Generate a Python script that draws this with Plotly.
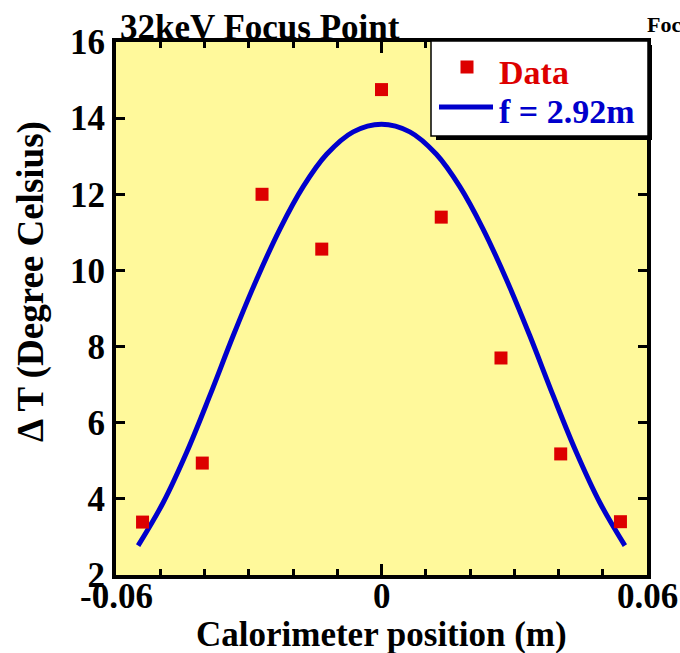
import plotly.graph_objects as go

# Calorimeter scan at 32 keV: measured temperature rise vs position
position_m = [-0.054, -0.0405, -0.027, -0.0135, 0.0, 0.0135, 0.027, 0.0405, 0.054]
delta_t_c = [3.39, 4.94, 12.0, 10.56, 14.75, 11.40, 7.70, 5.18, 3.40]

# Fitted beam profile (f = 2.92 m)
fit_x = [-0.0550, -0.0493, -0.0440, -0.0388, -0.0335, -0.0282, -0.0229, -0.0177,
         -0.0124, -0.0064, 0.0, 0.0064, 0.0124, 0.0177, 0.0229, 0.0282, 0.0335,
         0.0388, 0.0440, 0.0493, 0.0550]
fit_y = [2.77, 3.91, 5.23, 6.71, 8.29, 9.77, 11.10, 12.20, 13.05, 13.64, 13.84,
         13.64, 13.05, 12.20, 11.10, 9.77, 8.29, 6.71, 5.23, 3.91, 2.77]

x_tickvals = [-0.06, 0.0, 0.06]
x_ticktext = ["-0.06", "0", "0.06"]
y_tickvals = [2, 4, 6, 8, 10, 12, 14, 16]

FONT = "Liberation Serif"
RED = "#DD0000"
BLUE = "#0000CC"
YELLOW = "#FFF99B"

W, H = 680, 653
L, R, T, B = 116, 647, 42, 575


def px(x):
    return (x - L) / (R - L)


def py(y):
    return (B - y) / (B - T)


fig = go.Figure()
fig.add_trace(go.Scatter(
    x=fit_x, y=fit_y, mode="lines",
    line=dict(color=BLUE, width=5, shape="spline", smoothing=1.0),
    showlegend=False, hoverinfo="skip"))
fig.add_trace(go.Scatter(
    x=position_m, y=delta_t_c, mode="markers",
    marker=dict(symbol="square", size=13, color=RED, line=dict(width=0)),
    showlegend=False))

axis_common = dict(
    showline=True, linecolor="black", linewidth=4, mirror="ticks",
    ticks="inside", tickcolor="black", tickwidth=3,
    showgrid=False, zeroline=False, automargin=False,
    tickfont=dict(family=FONT, size=35, color="black", weight="bold"),
)

fig.update_xaxes(
    range=[-0.06, 0.06], tickvals=x_tickvals, ticklen=11, showticklabels=False,
    minor=dict(dtick=0.01, ticks="inside", ticklen=6, tickwidth=3, tickcolor="black",
               showgrid=False),
    **axis_common)
fig.update_yaxes(range=[2, 16], tickvals=y_tickvals, ticklen=9, **axis_common)

shapes = [
    # legend shadow and box
    dict(type="rect", xref="paper", yref="paper", x0=px(436), x1=px(652),
         y0=py(140), y1=py(45), fillcolor="black", line=dict(width=0), layer="above"),
    dict(type="rect", xref="paper", yref="paper", x0=px(431), x1=px(648),
         y0=py(136), y1=py(41), fillcolor="white", line=dict(color="black", width=1.5),
         layer="above"),
    # legend symbols
    dict(type="rect", xref="paper", yref="paper", x0=px(460.5), x1=px(473.5),
         y0=py(73.5), y1=py(60.5), fillcolor=RED, line=dict(width=0), layer="above"),
    dict(type="line", xref="paper", yref="paper", x0=px(439), x1=px(493),
         y0=py(107), y1=py(107), line=dict(color=BLUE, width=5), layer="above"),
]

annotations = [
    dict(text="<b>32keV Focus Point</b>", x=px(118), y=py(27), xanchor="left",
         yanchor="middle", font=dict(family=FONT, size=35, color="black")),
    dict(text="<b>Focus Point</b>", x=px(645), y=py(25), xanchor="left",
         yanchor="middle", font=dict(family=FONT, size=22, color="black")),
    dict(text="<b>Data</b>", x=px(497), y=py(72), xanchor="left", yanchor="middle",
         font=dict(family=FONT, size=34, color=RED)),
    dict(text="<b>f = 2.92m</b>", x=px(497), y=py(111), xanchor="left", yanchor="middle",
         font=dict(family=FONT, size=34, color=BLUE)),
    dict(text="<b>Calorimeter position (m)</b>", x=px(381), y=py(634), xanchor="center",
         yanchor="middle", font=dict(family=FONT, size=35, color="black")),
    dict(text="<b>Δ T (Degree Celsius)</b>", x=px(31), y=py(282), xanchor="center",
         yanchor="middle", textangle=-90, font=dict(family=FONT, size=37, color="black")),
]
for a in annotations:
    a.update(xref="paper", yref="paper", showarrow=False)

# x tick labels, placed on the data scale just under the axis
for v, t in zip(x_tickvals, x_ticktext):
    annotations.append(dict(
        text=f"<b>{t}</b>", x=v, xref="x", y=py(596), yref="paper",
        xanchor="center", yanchor="middle", showarrow=False,
        font=dict(family=FONT, size=35, color="black")))

fig.update_layout(
    width=W, height=H,
    margin=dict(l=L, r=W - R, t=T, b=H - B, pad=0),
    paper_bgcolor="white", plot_bgcolor=YELLOW,
    shapes=shapes, annotations=annotations, showlegend=False,
)

fig.write_html("out.html")
